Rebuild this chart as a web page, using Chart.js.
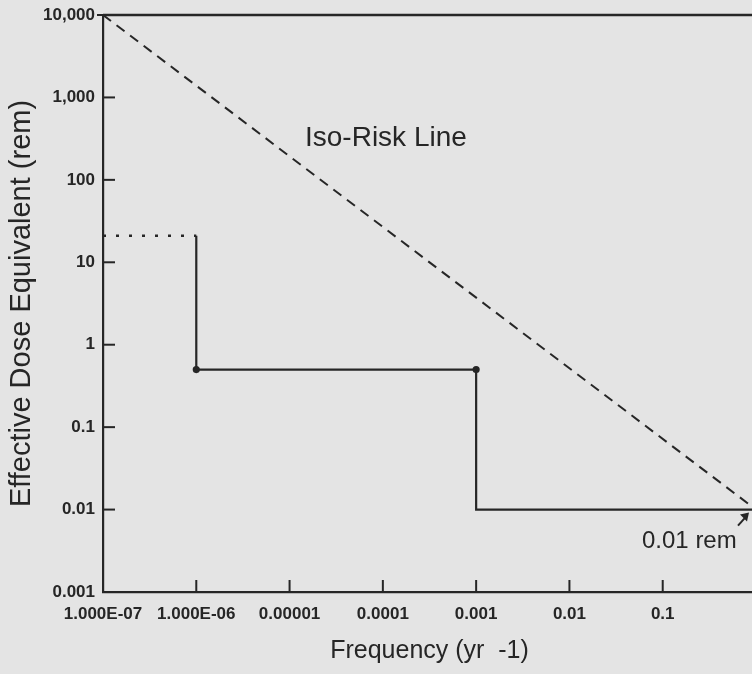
<!DOCTYPE html>
<html>
<head>
<meta charset="utf-8">
<script src="https://cdn.jsdelivr.net/npm/chart.js@4/dist/chart.umd.min.js"></script>
<style>
  html, body { margin: 0; padding: 0; background: #e4e4e4; overflow: hidden; }
  canvas { display: block; }
</style>
</head>
<body>
<canvas id="c" width="760" height="674" style="width:760px;height:674px"></canvas>
<script>
// ---- data ----
const xTickValues = [1e-7, 1e-6, 1e-5, 1e-4, 1e-3, 1e-2, 1e-1, 1];
const xTickLabels = ['1.000E-07', '1.000E-06', '0.00001', '0.0001', '0.001', '0.01', '0.1', ''];
const yTickValues = [1e-3, 1e-2, 1e-1, 1, 10, 100, 1000, 10000];
const yTickLabels = ['0.001', '0.01', '0.1', '1', '10', '100', '1,000', '10,000'];

const upperLimitX = [1e-7, 1];
const upperLimitY = [10000, 10000];

const isoRiskX = [1e-7, 1];
const isoRiskY = [10000, 0.01];

const dottedX = [1e-7, 1e-6];
const dottedY = [21, 21];

const stepX = [1e-6, 1e-6, 1e-3, 1e-3, 1];
const stepY = [21, 0.5, 0.5, 0.01, 0.01];
const stepMarked = [false, true, true, false, false];

const xTitle = 'Frequency (yr  -1)';
const yTitle = 'Effective Dose Equivalent (rem)';
const isoLabel = 'Iso-Risk Line';
const remLabel = '0.01 rem';

// ---- helpers ----
const toPts = (xs, ys) => xs.map((x, i) => ({ x: x, y: ys[i] }));
const ink = '#262626';
const FONT = '"Liberation Sans", Arial, sans-serif';

const bgPlugin = {
  id: 'bg',
  beforeDraw(chart) {
    const ctx = chart.ctx;
    ctx.save();
    ctx.fillStyle = '#e4e4e4';
    ctx.fillRect(0, 0, chart.width, chart.height);
    ctx.restore();
  }
};

const extrasPlugin = {
  id: 'extras',
  afterDraw(chart) {
    const ctx = chart.ctx;
    const xs = chart.scales.x, ys = chart.scales.y;
    ctx.save();
    ctx.strokeStyle = ink;
    ctx.lineWidth = 2;
    // inward tick marks on the y axis (top one points outward)
    yTickValues.forEach((v, i) => {
      const py = ys.getPixelForValue(v);
      ctx.beginPath();
      if (i === yTickValues.length - 1) {
        ctx.moveTo(xs.left - 6, py); ctx.lineTo(xs.left, py);
      } else if (i > 0) {
        ctx.moveTo(xs.left, py); ctx.lineTo(xs.left + 12, py);
      }
      ctx.stroke();
    });
    // inward tick marks on the x axis
    xTickValues.forEach((v, i) => {
      if (i === 0) return;
      const px = xs.getPixelForValue(v);
      ctx.beginPath();
      ctx.moveTo(px, ys.bottom); ctx.lineTo(px, ys.bottom - 12);
      ctx.stroke();
    });
    // annotations
    ctx.fillStyle = ink;
    ctx.textBaseline = 'alphabetic';
    ctx.textAlign = 'left';
    ctx.font = '28px ' + FONT;
    ctx.fillText(isoLabel, xs.left + 202, ys.top + 131);
    ctx.font = '24px ' + FONT;
    ctx.fillText(remLabel, xs.left + 539, ys.getPixelForValue(0.01) + 38);
    // arrow pointing at the end of the iso-risk line
    const ax = xs.getPixelForValue(1) - 7, ay = ys.getPixelForValue(0.01) + 3;
    const bx = ax - 11, by = ay + 13;
    ctx.beginPath();
    ctx.moveTo(bx, by); ctx.lineTo(ax - 2, ay + 3);
    ctx.lineWidth = 2;
    ctx.stroke();
    ctx.beginPath();
    ctx.moveTo(ax, ay);
    ctx.lineTo(ax - 9, ay + 2);
    ctx.lineTo(ax - 2, ay + 9);
    ctx.closePath();
    ctx.fill();
    ctx.restore();
  }
};

new Chart(document.getElementById('c'), {
  type: 'scatter',
  data: {
    datasets: [
      { data: toPts(upperLimitX, upperLimitY), showLine: true, borderColor: ink, borderWidth: 2.5, pointRadius: 0, clip: 6 },
      { data: toPts(isoRiskX, isoRiskY), showLine: true, borderColor: ink, borderWidth: 2, borderDash: [10, 7], pointRadius: 0 },
      { data: toPts(dottedX, dottedY), showLine: true, borderColor: ink, borderWidth: 2.5, borderDash: [3, 10], pointRadius: 0 },
      { data: toPts(stepX, stepY), showLine: true, borderColor: ink, borderWidth: 2.2,
        pointRadius: stepMarked.map(m => m ? 2.5 : 0), pointBackgroundColor: ink, pointBorderColor: ink }
    ]
  },
  options: {
    responsive: false,
    animation: false,
    events: [],
    layout: { padding: { left: 0, top: 15, right: 4, bottom: 0 } },
    plugins: { legend: { display: false }, tooltip: { enabled: false } },
    scales: {
      x: {
        type: 'logarithmic',
        min: 1e-7, max: 1,
        afterBuildTicks: s => { s.ticks = xTickValues.map(v => ({ value: v })); },
        afterFit: s => { s.height = 82; s.paddingRight = 0; s.paddingLeft = 0; },
        ticks: {
          autoSkip: false, maxRotation: 0, padding: 12, color: ink,
          font: { family: FONT, size: 17, weight: 'bold' },
          callback: (v, i) => xTickLabels[i]
        },
        grid: { display: false, drawTicks: false },
        border: { display: true, color: ink, width: 2.2 },
        title: {
          display: true, text: xTitle, color: ink,
          font: { family: FONT, size: 25 },
          padding: { top: 0, bottom: 8 }
        }
      },
      y: {
        type: 'logarithmic',
        min: 1e-3, max: 1e4,
        afterBuildTicks: s => { s.ticks = yTickValues.map(v => ({ value: v })); },
        afterFit: s => { s.width = 103; s.paddingTop = 0; s.paddingBottom = 0; },
        ticks: {
          autoSkip: false, padding: 8, color: ink,
          font: { family: FONT, size: 17, weight: 'bold' },
          callback: (v, i) => yTickLabels[i]
        },
        grid: { display: false, drawTicks: false },
        border: { display: true, color: ink, width: 2.2 },
        title: {
          display: true, text: yTitle, color: ink,
          font: { family: FONT, size: 29 },
          padding: { top: 5, bottom: 0 }
        }
      }
    }
  },
  plugins: [bgPlugin, extrasPlugin]
});
</script>
</body>
</html>
